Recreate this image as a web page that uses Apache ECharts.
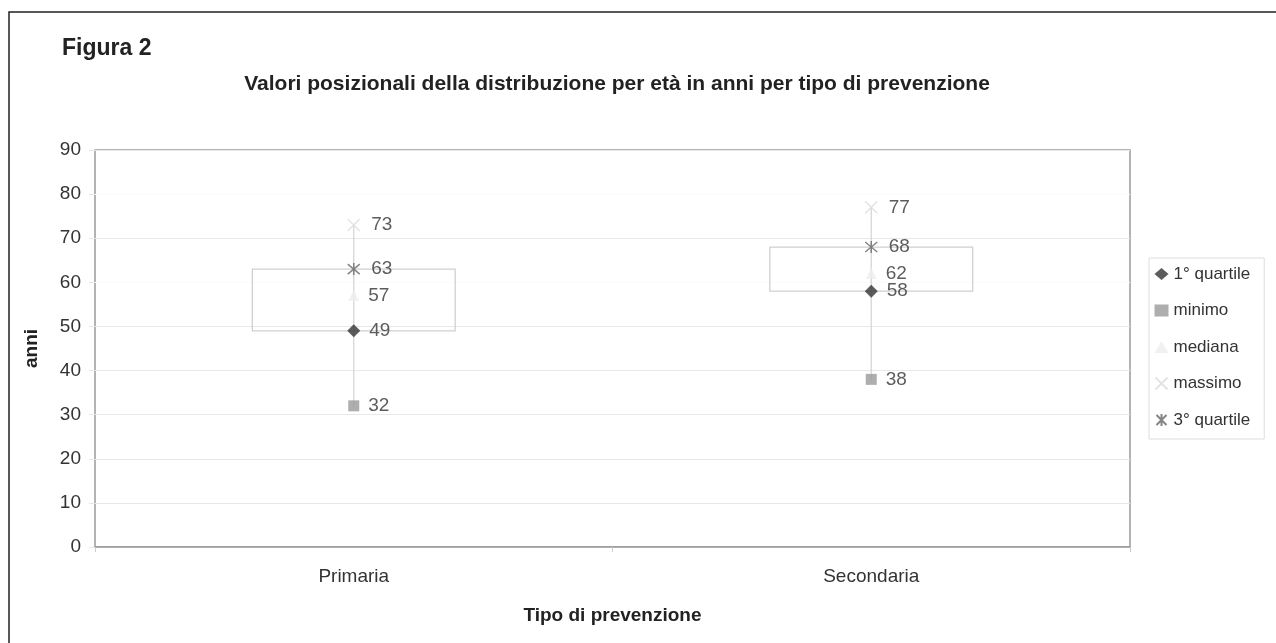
<!DOCTYPE html>
<html>
<head>
<meta charset="utf-8">
<script src="https://cdn.jsdelivr.net/npm/echarts@6/dist/echarts.min.js"></script>
<style>
html,body{margin:0;padding:0;background:#fff;}
#chart{width:1276px;height:643px;}
</style>
</head>
<body>
<div id="chart"></div>
<script>
const categories = ['Primaria', 'Secondaria'];
const primoQuartile = [49, 58];
const minimo = [32, 38];
const mediana = [57, 62];
const massimo = [73, 77];
const terzoQuartile = [63, 68];
const yTicks = [0, 10, 20, 30, 40, 50, 60, 70, 80, 90];

const FONT = '"Liberation Sans", Arial, sans-serif';
const chart = echarts.init(document.getElementById('chart'));

const boxData = categories.map((c, i) => [i, primoQuartile[i], terzoQuartile[i], minimo[i], massimo[i]]);

const labelStyle = {show: true, position: 'right', distance: 9, fontSize: 19, color: '#333', fontFamily: FONT, formatter: p => p.value};

const X_PATH = 'path://M0,0 L10,10 M10,0 L0,10';
const AST_PATH = 'path://M0,0 L10,10 M10,0 L0,10 M5,-1 L5,11';

function scatter(name, data, symbol, size, itemStyle, z) {
  return {
    name: name, type: 'scatter', data: data, symbol: symbol, symbolSize: size,
    itemStyle: itemStyle, label: labelStyle, z: z || 5,
    emphasis: {disabled: true}
  };
}

const option = {
  animation: false,
  backgroundColor: '#fff',
  graphic: [
    {type: 'rect', shape: {x: 9, y: 12, width: 1400, height: 800}, style: {fill: 'none', stroke: '#222', lineWidth: 1.5}, z: 0},
    {type: 'text', left: 62, top: 37, style: {text: 'Figura 2', font: 'bold 23px ' + FONT, fill: '#222'}}
  ],
  title: {
    text: 'Valori posizionali della distribuzione per età in anni per tipo di prevenzione',
    left: 612, top: 69, textAlign: 'center',
    textStyle: {fontSize: 21, fontWeight: 'bold', color: '#222', fontFamily: FONT}
  },
  legend: {
    orient: 'vertical', left: 1149, top: 258,
    padding: [7, 14, 10, 4],
    borderColor: '#ddd', borderWidth: 1,
    itemWidth: 14, itemHeight: 12, itemGap: 18.5,
    textStyle: {fontSize: 17, lineHeight: 18, color: '#333', fontFamily: FONT},
    data: [
      {name: '1° quartile', icon: 'diamond'},
      {name: 'minimo', icon: 'rect'},
      {name: 'mediana', icon: 'triangle'},
      {name: 'massimo', icon: X_PATH},
      {name: '3° quartile', icon: AST_PATH}
    ]
  },
  grid: {left: 95, right: 146, top: 150, bottom: 96, show: true, borderColor: '#9a9a9a', borderWidth: 1.5},
  xAxis: {
    type: 'category', data: categories, boundaryGap: true,
    name: 'Tipo di prevenzione', nameLocation: 'middle', nameGap: 59,
    nameTextStyle: {fontSize: 19, fontWeight: 'bold', color: '#222', fontFamily: FONT},
    axisLine: {lineStyle: {color: '#9a9a9a', width: 1.5}},
    axisTick: {show: true, length: 5, lineStyle: {color: '#ccc'}},
    axisLabel: {fontSize: 19, color: '#333', margin: 20, fontFamily: FONT}
  },
  yAxis: {
    type: 'value', min: 0, max: 90, interval: 10,
    name: 'anni', nameLocation: 'middle', nameGap: 54, nameRotate: 90,
    nameTextStyle: {fontSize: 19, fontWeight: 'bold', color: '#222', fontFamily: FONT},
    axisLine: {show: false},
    axisTick: {show: true, length: 6, lineStyle: {color: '#e6e6e6'}},
    axisLabel: {fontSize: 19, color: '#333', margin: 14, fontFamily: FONT, formatter: v => yTicks.includes(v) ? String(v) : ''},
    splitLine: {show: true, lineStyle: {color: ['#e8e8e8', '#e8e8e8', '#e8e8e8', '#e8e8e8', '#e8e8e8', '#e8e8e8', '#fbfbfb', '#e8e8e8', '#fbfbfb', '#e8e8e8'], width: 1.2}}
  },
  series: [
    {
      type: 'custom', name: 'box', z: 2, silent: true,
      data: boxData,
      renderItem: function (params, api) {
        const idx = api.value(0);
        const q1 = api.coord([idx, api.value(1)]);
        const q3 = api.coord([idx, api.value(2)]);
        const lo = api.coord([idx, api.value(3)]);
        const hi = api.coord([idx, api.value(4)]);
        const band = api.size([1, 0])[0];
        const w = band * 0.392;
        return {
          type: 'group',
          children: [
            {type: 'rect', shape: {x: q1[0] - w / 2, y: q3[1], width: w, height: q1[1] - q3[1]}, style: {fill: 'none', stroke: '#d0d0d0', lineWidth: 1.3}},
            {type: 'line', shape: {x1: lo[0], y1: lo[1], x2: hi[0], y2: hi[1]}, style: {stroke: '#d6d6d6', lineWidth: 1.3}}
          ]
        };
      }
    },
    scatter('1° quartile', primoQuartile, 'diamond', 13, {color: '#333'}),
    scatter('minimo', minimo, 'rect', 11, {color: '#9a9a9a'}),
    scatter('mediana', mediana, 'triangle', 11, {color: '#eeeeee'}),
    scatter('massimo', massimo, X_PATH, 12, {color: 'none', borderColor: '#dcdcdc', borderWidth: 1.5}),
    scatter('3° quartile', terzoQuartile, AST_PATH, 12, {color: 'none', borderColor: '#666', borderWidth: 1.5})
  ]
};
chart.setOption(option);
</script>
</body>
</html>
